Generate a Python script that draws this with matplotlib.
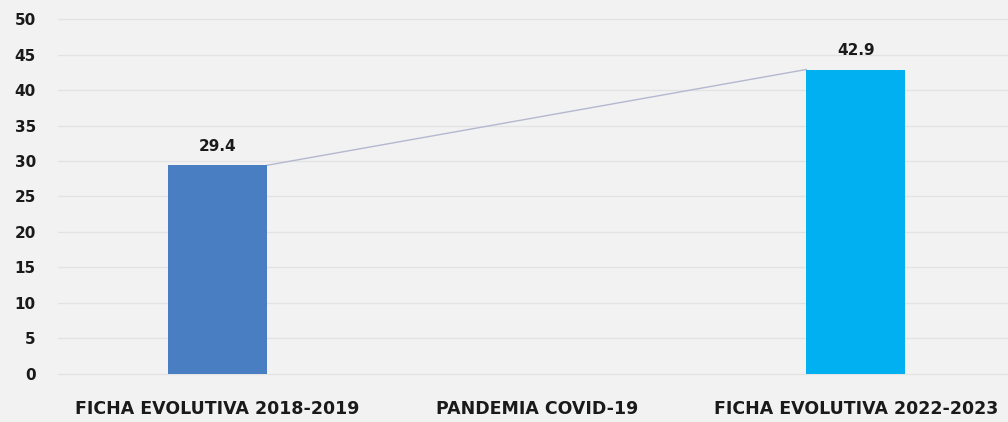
import matplotlib
matplotlib.use("Agg")
import matplotlib.pyplot as plt
import numpy as np

CATEGORIES = ["FICHA EVOLUTIVA 2018-2019", "PANDEMIA COVID-19", "FICHA EVOLUTIVA 2022-2023"]
BAR_POS = [0, 2]
VALUES = [29.4, 42.9]
LABELS = ["29.4", "42.9"]
Y_TICKS = list(range(0, 55, 5))

BG = "#f2f2f2"
COLORS = ["#4a7ec2", "#00b0f0"]
WIDTH = 0.31

plt.rcParams.update({
    "font.family": "DejaVu Sans",
    "font.weight": "bold",
})

fig = plt.figure(figsize=(10.08, 4.22), dpi=100)
fig.patch.set_facecolor(BG)
ax = fig.add_axes([58 / 1008, 46 / 422, 950 / 1008, 359 / 422])
ax.set_facecolor(BG)

ax.bar(BAR_POS, VALUES, WIDTH, color=COLORS, zorder=3)
for xp, v, lab in zip(BAR_POS, VALUES, LABELS):
    ax.text(xp, v + 1.6, lab, ha="center", va="bottom", fontsize=11, fontweight="bold", color="#1a1a1a")

# connector between bar tops
ax.plot([BAR_POS[0] + WIDTH / 2, BAR_POS[1] - WIDTH / 2], VALUES, color="#b4b8d0", linewidth=1, zorder=2)

ax.set_xlim(-0.5, 2.477)
ax.set_ylim(-0.3, 50.3)
ax.set_yticks(Y_TICKS)
ax.set_yticklabels([str(t) for t in Y_TICKS], fontsize=11, fontweight="bold", color="#1a1a1a")
ax.set_xticks(range(len(CATEGORIES)))
ax.set_xticklabels(CATEGORIES, fontsize=12.5, fontweight="bold", color="#1a1a1a")
ax.tick_params(axis="both", length=0)
ax.tick_params(axis="x", pad=17)
ax.tick_params(axis="y", pad=16)
for s in ax.spines.values():
    s.set_visible(False)
ax.grid(axis="y", color="#e3e3e3", linewidth=1, zorder=0)

fig.savefig("out.png", dpi=100, facecolor=BG)
